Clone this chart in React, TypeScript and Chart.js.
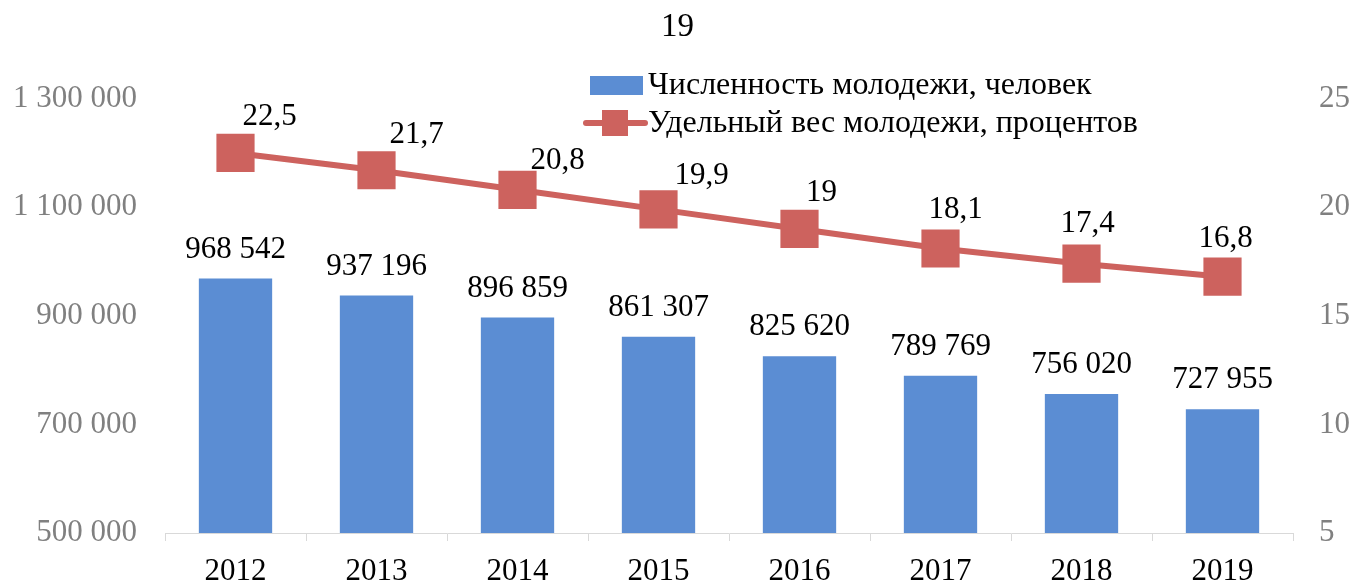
import React, { useEffect, useRef } from "react";
import { Chart, registerables } from "chart.js";

Chart.register(...registerables);

const YEARS = ["2012", "2013", "2014", "2015", "2016", "2017", "2018", "2019"];
const YOUTH_COUNT = [968542, 937196, 896859, 861307, 825620, 789769, 756020, 727955];
const YOUTH_SHARE = [22.5, 21.7, 20.8, 19.9, 19, 18.1, 17.4, 16.8];
const TITLE = "19";
const COUNT_LABEL = "Численность молодежи, человек";
const SHARE_LABEL = "Удельный вес молодежи, процентов";

// label offsets for the line's data labels (style, not data)
const SHARE_LABEL_DX = [34, 40, 40, 43, 22, 15, 6, 3];
const SHARE_LABEL_DY = [-36, -35, -29, -34, -36, -39, -40, -38];

const FONT = "'Liberation Serif', 'Times New Roman', serif";
const BLUE = "#5b8dd3";
const RED = "#cd625e";

const fmt = (v: number) => String(Math.round(v)).replace(/\B(?=(\d{3})+(?!\d))/g, " ");
const fmtDec = (v: number) => String(v).replace(".", ",");

const labelsPlugin = {
  id: "customLabels",
  afterDatasetsDraw(chart: any) {
    const ctx = chart.ctx;
    ctx.save();
    ctx.fillStyle = "#000";
    ctx.font = `31px ${FONT}`;
    ctx.textAlign = "center";
    ctx.textBaseline = "middle";
    const barMeta = chart.getDatasetMeta(0);
    barMeta.data.forEach((el: any, i: number) => {
      ctx.fillText(fmt(YOUTH_COUNT[i]), el.x, el.y - 29);
    });
    const lineMeta = chart.getDatasetMeta(1);
    lineMeta.data.forEach((el: any, i: number) => {
      ctx.fillText(fmtDec(YOUTH_SHARE[i]), el.x + SHARE_LABEL_DX[i], el.y + SHARE_LABEL_DY[i]);
    });
    ctx.restore();
  },
  afterDraw(chart: any) {
    const ctx = chart.ctx;
    ctx.save();
    // legend row 1: bar
    ctx.fillStyle = BLUE;
    ctx.fillRect(590, 76, 53, 19);
    // legend row 2: line with square marker
    ctx.strokeStyle = RED;
    ctx.lineWidth = 6;
    ctx.lineCap = "round";
    ctx.beginPath();
    ctx.moveTo(586, 123);
    ctx.lineTo(645, 123);
    ctx.stroke();
    ctx.fillStyle = RED;
    ctx.fillRect(602, 110, 26, 26);
    ctx.fillStyle = "#000";
    ctx.font = `32px ${FONT}`;
    ctx.textAlign = "left";
    ctx.textBaseline = "middle";
    ctx.fillText(COUNT_LABEL, 648, 86);
    ctx.fillText(SHARE_LABEL, 648, 124);
    ctx.restore();
  },
};

export default function App() {
  const ref = useRef<HTMLCanvasElement | null>(null);
  useEffect(() => {
    if (!ref.current) return;
    const chart = new Chart(ref.current, {
      type: "bar",
      data: {
        labels: YEARS,
        datasets: [
          {
            type: "bar",
            label: COUNT_LABEL,
            data: YOUTH_COUNT,
            backgroundColor: BLUE,
            yAxisID: "y",
            categoryPercentage: 1,
            barPercentage: 0.52,
            order: 2,
          },
          {
            type: "line",
            label: SHARE_LABEL,
            data: YOUTH_SHARE,
            borderColor: RED,
            backgroundColor: RED,
            borderWidth: 6,
            pointStyle: "rect",
            pointRadius: 27,
            pointHoverRadius: 27,
            pointBorderWidth: 0,
            yAxisID: "y1",
            order: 1,
          } as any,
        ],
      },
      options: {
        animation: false,
        responsive: true,
        maintainAspectRatio: false,
        layout: { padding: 0 },
        plugins: {
          legend: { display: false },
          tooltip: { enabled: false },
          title: {
            display: true,
            text: TITLE,
            color: "#000",
            font: { family: FONT, size: 33, weight: "normal" },
            padding: { top: 8, bottom: 51 },
          },
        },
        scales: {
          x: {
            grid: {
              display: true,
              drawOnChartArea: false,
              drawTicks: true,
              tickLength: 8,
              color: "#d9d9d9",
              offset: true,
            },
            border: { display: true, color: "#d9d9d9", width: 1 },
            ticks: {
              color: "#000",
              font: { family: FONT, size: 31, lineHeight: 0.8 },
              padding: 18,
              maxRotation: 0,
            },
            afterFit: (scale: any) => {
              scale.height = 52;
            },
          },
          y: {
            position: "left",
            min: 500000,
            max: 1300000,
            grid: { display: false, drawTicks: false },
            border: { display: false },
            ticks: {
              stepSize: 200000,
              color: "#808080",
              font: { family: FONT, size: 31 },
              padding: 28,
              callback: (v: any) => fmt(Number(v)),
            },
            afterFit: (scale: any) => {
              scale.width = 165;
            },
          },
          y1: {
            position: "right",
            min: 5,
            max: 25,
            grid: { display: false, drawTicks: false },
            border: { display: false },
            ticks: {
              stepSize: 5,
              color: "#808080",
              font: { family: FONT, size: 31 },
              padding: 26,
            },
            afterFit: (scale: any) => {
              scale.width = 62;
            },
          },
        },
      },
      plugins: [labelsPlugin],
    });
    return () => chart.destroy();
  }, []);
  return (
    <div style={{ position: "fixed", left: 0, top: 0, width: 1355, height: 585, background: "#fff" }}>
      <canvas ref={ref} />
    </div>
  );
}
